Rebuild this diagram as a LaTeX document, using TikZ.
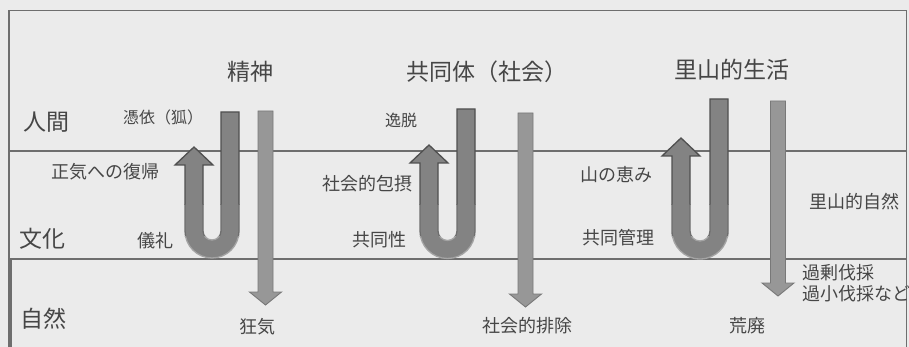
\documentclass[tikz,border=0pt]{standalone}
\usepackage{fontspec}
\newfontfamily\jp{Noto Sans CJK JP}
\definecolor{bg}{HTML}{EBEBEB}
\definecolor{frm}{HTML}{6E6E6E}
\definecolor{txt}{HTML}{464646}
\definecolor{ufill}{HTML}{838383}
\definecolor{udark}{HTML}{505050}
\definecolor{umid}{HTML}{6E6E6E}
\definecolor{ulight}{HTML}{A4A4A4}
\definecolor{dfill}{HTML}{979797}
\definecolor{ddraw}{HTML}{787878}
% U-shaped arrow: left leg centre, right leg centre, right leg top, arrow tip
\newcommand\UPath[4]{({#2+9},#3) -- ({#2+9},231) arc[start angle=0,end angle=180,radius={(#2-#1)/2+9}] -- ({#1-9},{#4+18}) -- ({#1-19},{#4+18}) -- (#1,#4) -- ({#1+19},{#4+18}) -- ({#1+9},{#4+18}) -- ({#1+9},231) arc[start angle=180,end angle=0,radius={(#2-#1)/2-9}] -- ({#2-9},#3) -- cycle}
% straight downward arrow: centre, top, tip
\newcommand\DPath[3]{({#1-7.5},#2) -- ({#1-7.5},{#3-13}) -- ({#1-16},{#3-13}) -- (#1,#3) -- ({#1+16},{#3-13}) -- ({#1+7.5},{#3-13}) -- ({#1+7.5},#2) -- cycle}
\newcommand\UArrow[4]{%
  \fill[ufill] \UPath{#1}{#2}{#3}{#4};
  \begin{scope}\clip (0,0) rectangle (909,205);
    \draw[udark,line width=1.3pt] \UPath{#1}{#2}{#3}{#4};\end{scope}
  \begin{scope}\clip (0,205) rectangle (909,236);
    \draw[umid,line width=1.3pt] \UPath{#1}{#2}{#3}{#4};\end{scope}
  \begin{scope}\clip (0,236) rectangle (909,347);
    \draw[ulight,line width=1.3pt] \UPath{#1}{#2}{#3}{#4};\end{scope}}
\begin{document}
\begin{tikzpicture}[x=1pt,y=-1pt,
  frame/.style={draw=frm,line width=1.1pt},
  lbl/.style={font=\jp\fontsize{18}{21}\selectfont,text=txt,inner sep=0pt},
  small/.style={font=\jp\fontsize{16}{19}\selectfont,text=txt,inner sep=0pt},
  ttl/.style={font=\jp\fontsize{23}{26}\selectfont,text=txt,inner sep=0pt},
  row/.style={font=\jp\fontsize{23}{26}\selectfont,text=txt,inner sep=0pt,anchor=west},
  darrow/.style={fill=dfill,draw=ddraw,line width=0.9pt}]
\useasboundingbox (0,0) rectangle (909,347);
\clip (0,0) rectangle (909,347);
\fill[bg] (0,0) rectangle (909,347);
% frame and bands
\draw[frame] (9,347) -- (9,10.5) -- (906.5,10.5) -- (906.5,347);
\draw[frame] (9,151) -- (906.5,151);
\draw[frame] (9,259) -- (906.5,259);
\draw[frame] (11,259) -- (11,347);
% arrows
\UArrow{194}{230}{112}{147}
\fill[darrow] \DPath{265.5}{111}{305};
\UArrow{429}{466}{109}{145}
\fill[darrow] \DPath{525.5}{113}{307};
\UArrow{681}{719}{99}{138}
\fill[darrow] \DPath{778}{101}{296};
% row labels
\node[row] (rh) at (23,122) {人間};
\node[row] (rc) at (19,239) {文化};
\node[row] (rn) at (20,319) {自然};
% titles
\node[ttl] (t1) at (250,72) {精神};
\node[ttl,anchor=west] (t2) at (406,72) {共同体（社会）};
\node[ttl] (t3) at (732,70) {里山的生活};
% column 1
\node[small,anchor=west] (a1) at (123,117) {憑依（狐）};
\node[lbl,anchor=west] (a2) at (51,172) {正気への復帰};
\node[lbl,anchor=west] (a3) at (137,241) {儀礼};
\node[lbl,anchor=west] (a4) at (239,327) {狂気};
% column 2
\node[small,anchor=west] (b1) at (385,120) {逸脱};
\node[lbl,anchor=west] (b2) at (322,184) {社会的包摂};
\node[lbl,anchor=west] (b3) at (352,240) {共同性};
\node[lbl,anchor=west] (b4) at (482,326) {社会的排除};
% column 3
\node[lbl,anchor=west] (c1) at (580,175) {山の恵み};
\node[lbl,anchor=west] (c2) at (582,238) {共同管理};
\node[lbl,anchor=west] (c3) at (809,202) {里山的自然};
\node[lbl,anchor=west,align=left] (c4) at (802,283) {過剰伐採\\過小伐採など};
\node[lbl,anchor=west] (c5) at (729,326) {荒廃};
\end{tikzpicture}
\end{document}
